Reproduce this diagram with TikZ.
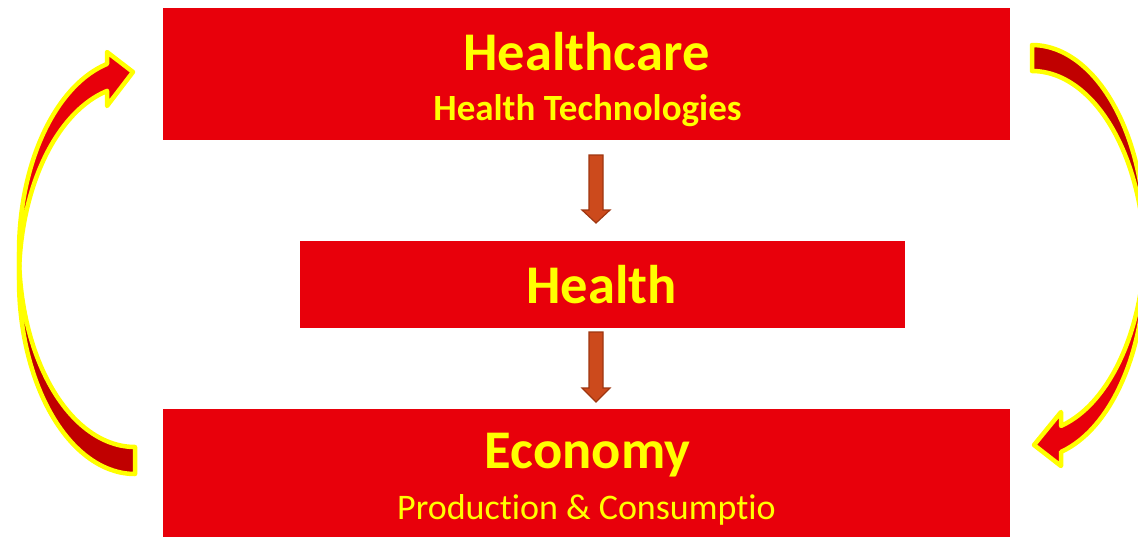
\documentclass[tikz,border=0pt]{standalone}
\usepackage{fontspec}
\setmainfont{Carlito}[Ligatures={NoCommon}]
\definecolor{boxred}{RGB}{232,0,11}
\definecolor{backred}{RGB}{192,0,0}
\definecolor{txtyellow}{RGB}{255,255,0}
\definecolor{arrowfill}{RGB}{204,74,28}
\definecolor{arrowline}{RGB}{158,54,16}
\begin{document}
\begin{tikzpicture}[x=1pt,y=-1pt,
  redbox/.style={draw=none,fill=boxred,inner sep=0pt,anchor=center},
  bigtitle/.style={text=txtyellow,font=\fontsize{54.5}{60}\selectfont\bfseries,anchor=base,inner sep=0pt},
  subtitle/.style={text=txtyellow,font=\fontsize{36}{40}\selectfont,anchor=base,inner sep=0pt},
  backband/.style={fill=backred,draw=txtyellow,line width=4.5pt,line join=round},
  frontband/.style={fill=boxred,draw=txtyellow,line width=4.5pt,line join=round},
  downblock/.style={fill=arrowfill,draw=arrowline,line width=1.2pt,line join=miter}]
\useasboundingbox (0,0) rectangle (1138,536);
\clip (0,0) rectangle (1138,536);

% boxes
\node[redbox,minimum width=847pt,minimum height=132pt] (hc) at (586.5,74) {};
\node[redbox,minimum width=605pt,minimum height=87pt] (he) at (602.5,284.5) {};
\node[redbox,minimum width=847pt,minimum height=136pt] (ec) at (586.5,477) {};

% texts
\node[bigtitle] (hcT) at (586.5,70) {Healthcare};
\node[subtitle,font=\fontsize{37}{40}\selectfont\bfseries] (hcS) at (587.5,120) {Health Technologies};
\node[bigtitle] (heT) at (601.5,303) {Health};
\node[bigtitle] (ecT) at (587.5,468) {Economy};
\node[subtitle] (ecS) at (586.5,519) {Production \& Consumptio};

% block arrows between the boxes
\draw[downblock] (589,155) -- (603,155) -- (603,210) -- (610,210) -- (596,223)
  -- (582,210) -- (589,210) -- cycle;
\draw[downblock] (589,332) -- (603,332) -- (603,388) -- (610,388) -- (596,402)
  -- (582,388) -- (589,388) -- cycle;

% left curved arrow: economy back up to healthcare
\draw[backband] plot[domain=0:90,samples=60] ({135-116*cos(\x)},{252.6+194.4*sin(\x)})
  -- (135,474)
  -- plot[domain=90:0,samples=60] ({135-116*cos(\x)},{279.6+194.4*sin(\x)}) -- cycle;
\draw[frontband] (107,90.9) -- (107,106) -- (133,72) -- (107,52) -- (107,63.9)
  -- plot[domain=76.03:0,samples=60] ({135-116*cos(\x)},{252.6-194.4*sin(\x)})
  -- plot[domain=0:76.03,samples=60] ({135-116*cos(\x)},{279.6-194.4*sin(\x)}) -- cycle;

% right curved arrow: healthcare down to economy
\draw[backband] plot[domain=0:90,samples=60] ({1032+113*cos(\x)},{238.7-193.7*sin(\x)})
  -- (1032,71)
  -- plot[domain=90:0,samples=60] ({1032+113*cos(\x)},{264.7-193.7*sin(\x)}) -- cycle;
\draw[frontband] (1061,425.9) -- (1061,412) -- (1034,445) -- (1061,466) -- (1061,451.9)
  -- plot[domain=75.13:0,samples=60] ({1032+113*cos(\x)},{264.7+193.7*sin(\x)})
  -- plot[domain=0:75.13,samples=60] ({1032+113*cos(\x)},{238.7+193.7*sin(\x)}) -- cycle;
\end{tikzpicture}
\end{document}
